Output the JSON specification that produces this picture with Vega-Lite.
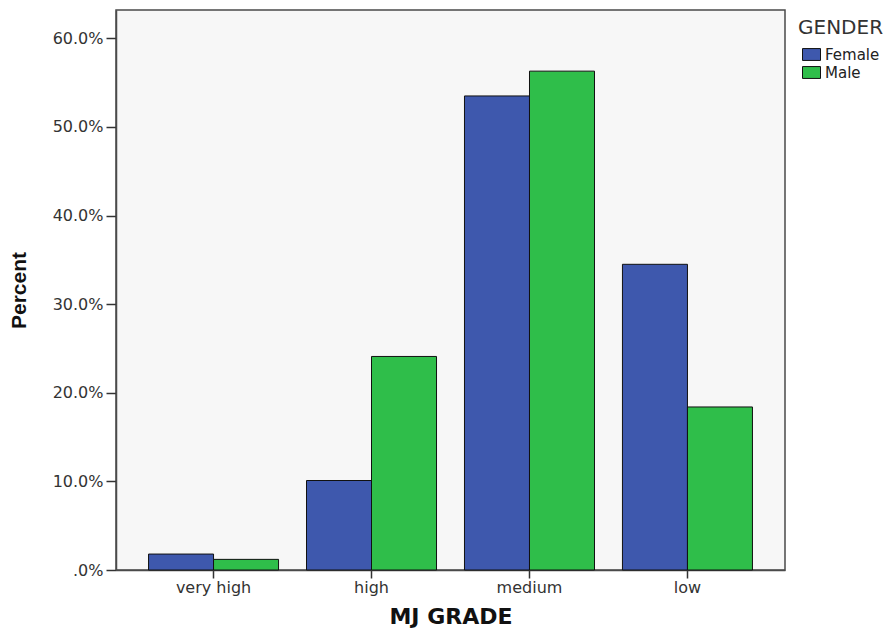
{
  "$schema": "https://vega.github.io/schema/vega-lite/v6.json",
  "width": 669,
  "height": 560,
  "autosize": {"type": "none"},
  "padding": {"left": 116, "top": 10, "right": 107, "bottom": 60},
  "background": "#ffffff",
  "config": {
    "font": "DejaVu Sans",
    "view": {"fill": "#f7f7f7", "stroke": "#4a4a4a", "strokeWidth": 1.5}
  },
  "data": {
    "values": [
      {"grade": "very high", "gender": "Female", "percent": 1.8},
      {"grade": "very high", "gender": "Male", "percent": 1.2},
      {"grade": "high", "gender": "Female", "percent": 10.1},
      {"grade": "high", "gender": "Male", "percent": 24.1},
      {"grade": "medium", "gender": "Female", "percent": 53.5},
      {"grade": "medium", "gender": "Male", "percent": 56.3},
      {"grade": "low", "gender": "Female", "percent": 34.5},
      {"grade": "low", "gender": "Male", "percent": 18.4}
    ]
  },
  "mark": {"type": "bar", "stroke": "#111111", "strokeWidth": 1},
  "encoding": {
    "x": {
      "field": "grade",
      "type": "nominal",
      "sort": ["very high", "high", "medium", "low"],
      "scale": {"paddingInner": 0.177, "paddingOuter": 0.206},
      "axis": {
        "title": "MJ GRADE",
        "titleFont": "DejaVu Sans",
        "titleFontSize": 22,
        "titleFontWeight": "bold",
        "titleColor": "#111111",
        "titlePadding": 11,
        "labelAngle": 0,
        "labelFont": "DejaVu Sans",
        "labelFontSize": 16,
        "labelColor": "#333333",
        "labelPadding": 1,
        "tickSize": 8,
        "tickColor": "#333333",
        "tickWidth": 1.5,
        "domainColor": "#4a4a4a",
        "domainWidth": 1.5
      }
    },
    "xOffset": {"field": "gender", "type": "nominal", "sort": ["Female", "Male"], "scale": {"paddingInner": 0, "paddingOuter": 0}},
    "y": {
      "field": "percent",
      "type": "quantitative",
      "scale": {"domain": [0, 63.2], "nice": false},
      "axis": {
        "title": "Percent",
        "titleFont": "Liberation Sans",
        "titleFontSize": 21,
        "titleFontWeight": "bold",
        "titleColor": "#111111",
        "titlePadding": 23,
        "values": [0, 10, 20, 30, 40, 50, 60],
        "labelExpr": "datum.value == 0 ? '.0%' : format(datum.value, '.1f') + '%'",
        "labelFont": "DejaVu Sans",
        "labelFontSize": 16,
        "labelColor": "#333333",
        "labelPadding": 3,
        "tickSize": 10,
        "tickColor": "#333333",
        "tickWidth": 1.5,
        "grid": false,
        "domainColor": "#4a4a4a",
        "domainWidth": 1.5
      }
    },
    "color": {
      "field": "gender",
      "type": "nominal",
      "scale": {"domain": ["Female", "Male"], "range": ["#3e58ad", "#2fbe4a"]},
      "legend": {
        "title": "GENDER",
        "orient": "none",
        "legendX": 682,
        "legendY": 8,
        "titleFont": "DejaVu Sans",
        "titleFontSize": 20,
        "titleFontWeight": "normal",
        "titleColor": "#333333",
        "titlePadding": 7,
        "labelFont": "DejaVu Sans",
        "labelFontSize": 15,
        "labelColor": "#222222",
        "labelOffset": 4,
        "symbolType": "M-1,-0.66H1V0.66H-1Z",
        "symbolSize": 324,
        "symbolStrokeColor": "#111111",
        "symbolStrokeWidth": 1,
        "symbolOffset": 4,
        "rowPadding": 0
      }
    }
  }
}
